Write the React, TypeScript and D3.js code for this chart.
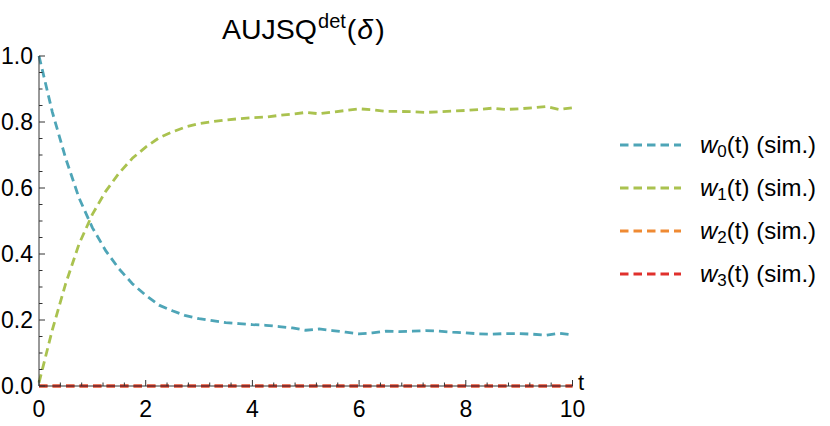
import * as d3 from "d3";

// sampled time grid and simulated weights
const times = d3.range(0, 10.001, 0.25).map((t) => +t.toFixed(2));
const w0 = [
  1.0, 0.83, 0.69, 0.57, 0.48, 0.41, 0.355, 0.31, 0.275, 0.245, 0.228, 0.213, 0.204, 0.198,
  0.192, 0.189, 0.186, 0.184, 0.18, 0.176, 0.169, 0.173, 0.168, 0.163, 0.158, 0.161, 0.166,
  0.165, 0.166, 0.168, 0.166, 0.163, 0.161, 0.158, 0.157, 0.159, 0.159, 0.157, 0.154, 0.16,
  0.155,
];
const w1 = [
  0.01, 0.17, 0.31, 0.43, 0.52, 0.59, 0.645, 0.69, 0.724, 0.752, 0.77, 0.785, 0.795, 0.801,
  0.806, 0.81, 0.813, 0.815, 0.82, 0.824, 0.829, 0.825, 0.83, 0.835, 0.84, 0.837, 0.832,
  0.832, 0.831, 0.829, 0.831, 0.833, 0.835, 0.838, 0.842, 0.838, 0.84, 0.843, 0.847, 0.838,
  0.843,
];
const w2 = times.map(() => 0);
const w3 = times.map(() => 0);

const seriesNames = ["0", "1", "2", "3"];
const seriesColors = ["#4ea5b7", "#aac24f", "#ef8a33", "#e0302c"];
const seriesValues = [w0, w1, w2, w3];

const xTicks = [0, 2, 4, 6, 8, 10];
const yTicks = [0, 0.2, 0.4, 0.6, 0.8, 1.0];

const W = 830;
const H = 426;
const FONT = "'Liberation Sans', Arial, sans-serif";

export default function App() {
  const x = d3.scaleLinear().domain([0, 10]).range([39, 572.5]);
  const y = d3.scaleLinear().domain([0, 1]).range([386, 56]);

  const line = d3
    .line<number>()
    .x((_, i) => x(times[i]))
    .y((d) => y(d));

  const xMinor = d3.range(0, 10.001, 0.4).filter((v) => Math.abs(v / 2 - Math.round(v / 2)) > 1e-6);
  const yMinor = d3.range(0, 1.0001, 0.05).filter((v) => Math.abs(v / 0.2 - Math.round(v / 0.2)) > 1e-6);

  const legendY = d3.scaleLinear().domain([0, 3]).range([145, 274]);

  return (
    <svg
      width={W}
      height={H}
      style={{ position: "absolute", left: 0, top: 0, background: "#fff" }}
      fontFamily={FONT}
    >
      {/* title */}
      <text x={222} y={39} fontSize={28.5} fill="#000">
        AUJSQ
        <tspan fontSize={20} dy={-11} dx={1}>det</tspan>
        <tspan dy={11} dx={1}>(</tspan>
        <tspan fontStyle="italic" dx={1}>δ</tspan>
        <tspan dx={2}>)</tspan>
      </text>

      {/* data lines */}
      {seriesValues.map((vals, k) => (
        <path
          key={k}
          d={line(vals) ?? ""}
          fill="none"
          stroke={seriesColors[k]}
          strokeWidth={2.8}
          strokeDasharray="8.5,5"
        />
      ))}

      {/* axes */}
      <g stroke="#333" strokeWidth={1}>
        <line x1={x(0)} x2={x(10)} y1={y(0)} y2={y(0)} />
        <line x1={x(0)} x2={x(0)} y1={y(0)} y2={y(1)} />
        {xTicks.map((t) => (
          <line key={"xt" + t} x1={x(t)} x2={x(t)} y1={y(0)} y2={y(0) - 6} />
        ))}
        {xMinor.map((t) => (
          <line key={"xm" + t} x1={x(t)} x2={x(t)} y1={y(0)} y2={y(0) - 3.5} />
        ))}
        {yTicks.map((v) => (
          <line key={"yt" + v} x1={x(0)} x2={x(0) + 6} y1={y(v)} y2={y(v)} />
        ))}
        {yMinor.map((v) => (
          <line key={"ym" + v} x1={x(0)} x2={x(0) + 3.5} y1={y(v)} y2={y(v)} />
        ))}
      </g>

      {/* tick labels */}
      <g fontSize={23} fill="#000">
        {xTicks.map((t) => (
          <text key={"xl" + t} x={x(t)} y={y(0) + 31} textAnchor="middle">
            {d3.format("d")(t)}
          </text>
        ))}
        {yTicks.map((v) => (
          <text key={"yl" + v} x={x(0) - 6} y={y(v) + 8} textAnchor="end">
            {d3.format(".1f")(v)}
          </text>
        ))}
        <text x={578} y={390} fontSize={22}>t</text>
      </g>

      {/* legend */}
      {seriesNames.map((name, k) => (
        <g key={"lg" + name} transform={`translate(0,${legendY(k)})`}>
          <line x1={620} x2={681} y1={0} y2={0} stroke={seriesColors[k]} strokeWidth={2.8} strokeDasharray="8.5,5" />
          <text x={700} y={8} fontSize={24} fill="#000">
            <tspan fontStyle="italic">w</tspan>
            <tspan fontSize={17} dy={4}>{name}</tspan>
            <tspan dy={-4}>(t) (sim.)</tspan>
          </text>
        </g>
      ))}
    </svg>
  );
}
